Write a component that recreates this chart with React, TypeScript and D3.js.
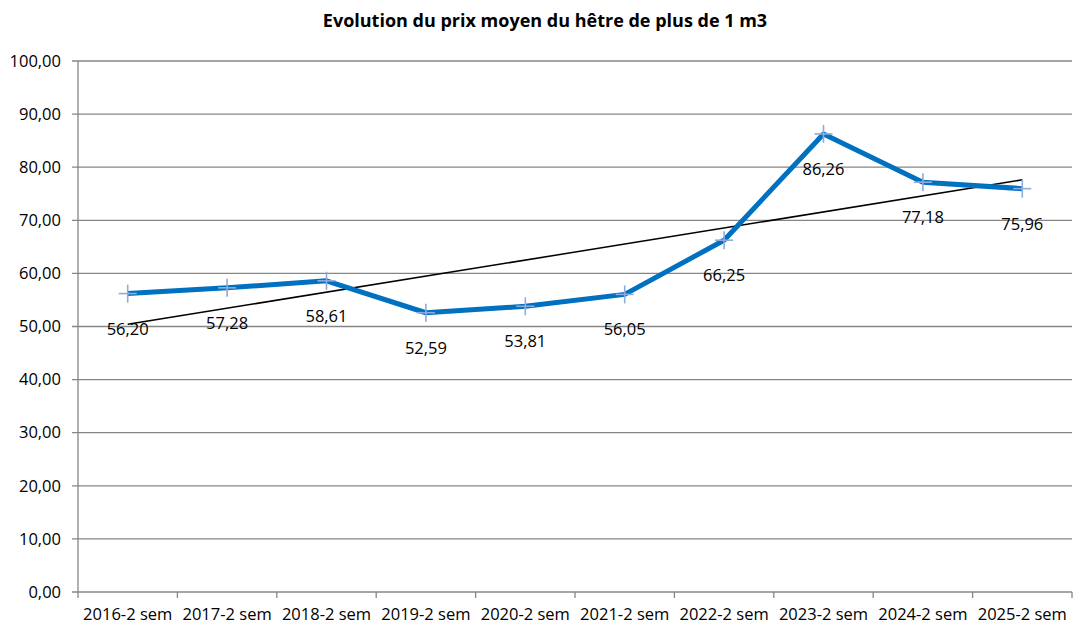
import { useEffect, useRef } from "react";
import * as d3 from "d3";

const categories = [
  "2016-2 sem", "2017-2 sem", "2018-2 sem", "2019-2 sem", "2020-2 sem",
  "2021-2 sem", "2022-2 sem", "2023-2 sem", "2024-2 sem", "2025-2 sem",
];
const prices = [56.2, 57.28, 58.61, 52.59, 53.81, 56.05, 66.25, 86.26, 77.18, 75.96];
const yTicks = [0, 10, 20, 30, 40, 50, 60, 70, 80, 90, 100];

const width = 1073;
const height = 625;
const margin = { top: 61, right: 1, bottom: 33, left: 78 };
const font = "'Open Sans', Lato, sans-serif";
const fmt = (v: number) => v.toFixed(2).replace(".", ",");

export default function App() {
  const svgRef = useRef<SVGSVGElement>(null);

  useEffect(() => {
    const svg = d3.select(svgRef.current);
    svg.selectAll("*").remove();

    const boundsWidth = width - margin.left - margin.right;
    const boundsHeight = height - margin.top - margin.bottom;

    const xBand = d3.scaleBand().domain(categories).range([0, boundsWidth]);
    const x = (c: string) => (xBand(c) ?? 0) + xBand.bandwidth() / 2;
    const y = d3.scaleLinear().domain([0, 100]).range([boundsHeight, 0]);

    // titre
    svg.append("text")
      .attr("x", 545)
      .attr("y", 27)
      .attr("text-anchor", "middle")
      .style("font-family", font)
      .style("font-size", "18px")
      .style("font-weight", "bold")
      .text("Evolution du prix moyen du hêtre de plus de 1 m3");

    const g = svg.append("g").attr("transform", `translate(${margin.left},${margin.top})`);

    // grille horizontale
    g.append("g")
      .selectAll("line")
      .data(yTicks)
      .join("line")
      .attr("x1", -6)
      .attr("x2", boundsWidth)
      .attr("y1", (d) => y(d))
      .attr("y2", (d) => y(d))
      .attr("stroke", "#868686")
      .attr("stroke-width", 1.3);

    // axe Y
    g.append("line")
      .attr("x1", 0).attr("x2", 0)
      .attr("y1", 0).attr("y2", boundsHeight)
      .attr("stroke", "#868686")
      .attr("stroke-width", 1.3);

    g.append("g")
      .selectAll("text")
      .data(yTicks)
      .join("text")
      .attr("x", -17)
      .attr("y", (d) => y(d))
      .attr("dy", "0.35em")
      .attr("text-anchor", "end")
      .style("font-family", font)
      .style("font-size", "16.5px")
      .attr("fill", "#000")
      .text((d) => fmt(d));

    // axe X : graduations entre catégories
    const tickPos = categories.map((c) => xBand(c) ?? 0).concat([boundsWidth]);
    g.append("g")
      .selectAll("line")
      .data(tickPos)
      .join("line")
      .attr("x1", (d) => d).attr("x2", (d) => d)
      .attr("y1", boundsHeight).attr("y2", boundsHeight + 6)
      .attr("stroke", "#868686")
      .attr("stroke-width", 1.3);

    g.append("g")
      .selectAll("text")
      .data(categories)
      .join("text")
      .attr("x", (d) => x(d))
      .attr("y", boundsHeight + 28)
      .attr("text-anchor", "middle")
      .style("font-family", font)
      .style("font-size", "16.5px")
      .text((d) => d);

    // courbe de tendance linéaire (moindres carrés)
    const idx = prices.map((_, i) => i);
    const mx = d3.mean(idx) ?? 0;
    const my = d3.mean(prices) ?? 0;
    const slope =
      d3.sum(idx, (i) => (i - mx) * (prices[i] - my)) / d3.sum(idx, (i) => (i - mx) ** 2);
    const intercept = my - slope * mx;
    const n = categories.length - 1;

    g.append("line")
      .attr("x1", x(categories[0]))
      .attr("y1", y(intercept))
      .attr("x2", x(categories[n]))
      .attr("y2", y(intercept + slope * n))
      .attr("stroke", "#000")
      .attr("stroke-width", 1.5);

    // série principale
    const data = categories.map((c, i) => ({ c, v: prices[i] }));
    const line = d3.line<{ c: string; v: number }>().x((d) => x(d.c)).y((d) => y(d.v));

    g.append("path")
      .datum(data)
      .attr("fill", "none")
      .attr("stroke", "#0070C0")
      .attr("stroke-width", 5)
      .attr("stroke-linejoin", "round")
      .attr("d", line);

    // marqueurs en croix
    const markers = g.append("g").attr("stroke", "#8faadc").attr("stroke-width", 1.6);
    markers.selectAll(".h")
      .data(data)
      .join("line")
      .attr("x1", (d) => x(d.c) - 9).attr("x2", (d) => x(d.c) + 9)
      .attr("y1", (d) => y(d.v)).attr("y2", (d) => y(d.v));
    markers.selectAll(".v")
      .data(data)
      .join("line")
      .attr("x1", (d) => x(d.c)).attr("x2", (d) => x(d.c))
      .attr("y1", (d) => y(d.v) - 9).attr("y2", (d) => y(d.v) + 9);

    // étiquettes de données
    g.append("g")
      .selectAll("text")
      .data(data)
      .join("text")
      .attr("x", (d) => x(d.c))
      .attr("y", (d) => y(d.v) + 41)
      .attr("text-anchor", "middle")
      .style("font-family", font)
      .style("font-size", "16.5px")
      .text((d) => fmt(d.v));
  }, []);

  return (
    <svg
      ref={svgRef}
      width={width}
      height={height}
      style={{ position: "absolute", left: 0, top: 0, background: "#fff" }}
    />
  );
}
